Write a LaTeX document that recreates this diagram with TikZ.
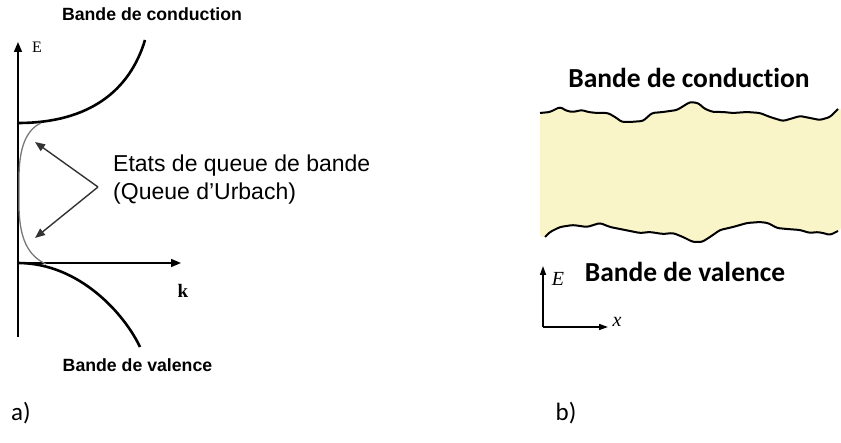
\documentclass[tikz,border=0pt]{standalone}
\usepackage{fontspec}
\setmainfont{Liberation Sans}
\newfontfamily\calibri[Ligatures=NoCommon]{Carlito}
\newfontfamily\tnr{Liberation Serif}
\usetikzlibrary{arrows.meta}
\definecolor{bandyellow}{RGB}{250,244,201}
\definecolor{tailgray}{RGB}{120,120,120}
\tikzset{
  axis/.style={line width=1.6pt, black, -{Triangle[length=10pt,width=8pt]}},
  band/.style={line width=2.6pt, black},
  tail/.style={line width=1.3pt, tailgray},
  pointer/.style={line width=1.4pt, black!80, -{Triangle[length=10pt,width=8pt]}},
  wavy/.style={line width=2pt, black, line join=round, rounded corners=2.5pt},
  alabel/.style={font=\bfseries\fontsize{17.7}{20}\selectfont, inner sep=0pt},
  blabel/.style={font=\calibri\bfseries\fontsize{27.5}{30}\selectfont, inner sep=0pt},
  partlabel/.style={font=\calibri\fontsize{25}{28}\selectfont, inner sep=0pt},
}
\begin{document}
\begin{tikzpicture}[x=1pt,y=-1pt]
\useasboundingbox (0,0) rectangle (841,443);
% ---------- panel a ----------
\coordinate (o) at (18,263);
\coordinate (etop) at (18,42);
\coordinate (ebot) at (18,337);
\coordinate (kend) at (181,263);
\draw[line width=1.6pt] (o) -- (ebot);
\draw[axis] (o) -- (etop);
\draw[axis] (o) -- (kend);
\node[font=\tnr\fontsize{16}{20}\selectfont, inner sep=0pt] (E) at (37,47) {E};
\node[font=\tnr\bfseries\fontsize{19}{22}\selectfont, inner sep=0pt] (k) at (183,291) {k};
% bands
\coordinate (cb0) at (18,123);
\coordinate (cb1) at (145,40);
\draw[band] (cb0) .. controls (90,123) and (130,90) .. (cb1);
\coordinate (vb0) at (18,263);
\coordinate (vb1) at (140,347);
\draw[band] (vb0) .. controls (80,263) and (125,315) .. (vb1);
% Urbach tails
\coordinate (t1) at (41,123);
\coordinate (t2) at (19,178);
\coordinate (t3) at (19,205);
\coordinate (t4) at (46,264);
\draw[tail] (t1) .. controls (26,130) and (19,148) .. (t2) -- (t3)
  .. controls (19,238) and (28,256) .. (t4);
% labels
\node[alabel] (cond) at (152,14) {Bande de conduction};
\node[alabel] (val) at (137.5,365) {Bande de valence};
\node[font=\fontsize{23}{28}\selectfont, inner sep=0pt, align=left, anchor=west] (etats) at (113,180)
  {Etats de queue de bande\\(Queue d’Urbach)};
\coordinate (vertex) at (98,187);
\coordinate (tipup) at (35,142);
\coordinate (tipdn) at (35,238);
\draw[pointer] (vertex) -- (tipup);
\draw[pointer] (vertex) -- (tipdn);
% ---------- panel b ----------
\path[fill=bandyellow, rounded corners=2.5pt]
  (540,113) -- (550,112) -- (560,107) -- (567,111) -- (573,112) -- (582,110) -- (588,112) -- (597,113) -- (608,113) -- (615,117) -- (622,122) -- (630,122) -- (643,121) -- (652,113) -- (663,112) -- (677,110) -- (690,102) -- (698,103) -- (705,109) -- (713,112) -- (723,112) -- (733,113) -- (747,112) -- (760,113) -- (770,117) -- (783,121) -- (790,119) -- (800,116) -- (810,118) -- (820,120) -- (830,117) -- (838,109) -- (841,108)
  -- (841,230) -- (838,231) -- (830,235) -- (823,233) -- (817,232) -- (810,233) -- (800,230) -- (787,229) -- (777,228) -- (768,223) -- (760,222) -- (747,223) -- (733,227) -- (720,230) -- (710,237) -- (702,242) -- (693,242) -- (683,237) -- (673,233) -- (663,234) -- (650,232) -- (640,233) -- (630,231) -- (620,229) -- (610,227) -- (600,223) -- (587,227) -- (573,225) -- (560,227) -- (550,232) -- (545,237) -- (540,237) -- cycle;
\draw[wavy] (540,113) -- (550,112) -- (560,107) -- (567,111) -- (573,112) -- (582,110) -- (588,112) -- (597,113) -- (608,113) -- (615,117) -- (622,122) -- (630,122) -- (643,121) -- (652,113) -- (663,112) -- (677,110) -- (690,102) -- (698,103) -- (705,109) -- (713,112) -- (723,112) -- (733,113) -- (747,112) -- (760,113) -- (770,117) -- (783,121) -- (790,119) -- (800,116) -- (810,118) -- (820,120) -- (830,117) -- (838,109);
\draw[wavy] (545,237) -- (550,232) -- (560,227) -- (573,225) -- (587,227) -- (600,223) -- (610,227) -- (620,229) -- (630,231) -- (640,233) -- (650,232) -- (663,234) -- (673,233) -- (683,237) -- (693,242) -- (702,242) -- (710,237) -- (720,230) -- (733,227) -- (747,223) -- (760,222) -- (768,223) -- (777,228) -- (787,229) -- (800,230) -- (810,233) -- (817,232) -- (823,233) -- (830,235) -- (838,231);
\node[blabel] (bcond) at (689,78) {Bande de conduction};
\node[blabel] (bval) at (685,272) {Bande de valence};
\coordinate (bo) at (543,327);
\coordinate (bE) at (543,266);
\coordinate (bx) at (608,327);
\draw[line width=1.5pt, -{Triangle[length=9pt,width=6pt]}] (bo) -- (bE);
\draw[line width=1.5pt, -{Triangle[length=9pt,width=6pt]}] (bo) -- (bx);
\node[font=\tnr\itshape\fontsize{20}{22}\selectfont, inner sep=0pt] (Elab) at (558,279) {E};
\node[font=\tnr\itshape\fontsize{20}{22}\selectfont, inner sep=0pt] (xlab) at (617,322) {x};
% ---------- part labels ----------
\node[partlabel] (pa) at (21,413) {a)};
\node[partlabel] (pb) at (566,413) {b)};
\end{tikzpicture}
\end{document}
